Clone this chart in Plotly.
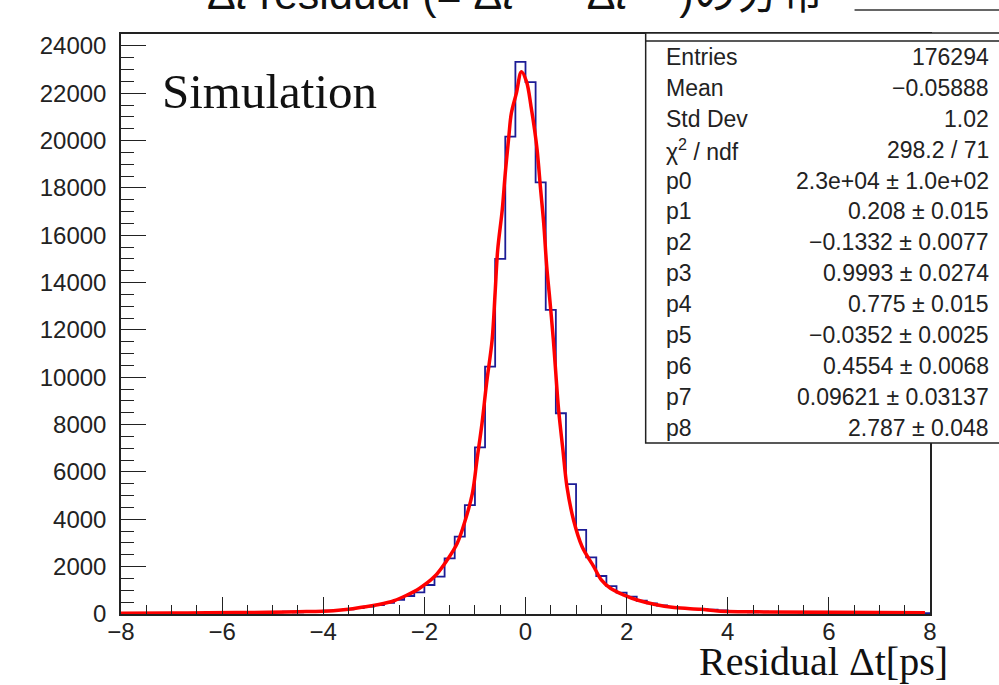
import plotly.graph_objects as go

# ---------------- data ----------------
bin_low = -8.0
bin_width = 0.2
hist_counts = [
    10, 12, 14, 15, 17, 19, 21, 24, 45, 48,
    52, 55, 58, 62, 66, 70, 95, 70, 105, 120,
    140, 165, 200, 250, 310, 380, 470, 600, 760, 917,
    1225, 1580, 2350, 3270, 4600, 7040, 10450, 15000, 20165, 23320,
    22470, 18230, 12850, 8480, 5490, 3550, 2395, 1605, 1180, 900,
    730, 560, 450, 360, 290, 250, 220, 200, 180, 150,
    135, 120, 70, 95, 85, 80, 76, 72, 68, 64,
    60, 58, 55, 52, 50, 48, 45, 42, 40, 38,
]
fit_x = [-8.0, -7.0, -6.3, -5.1, -4.5, -3.8, -3.5, -3.2, -2.9, -2.6, -2.35, -2.1,
         -1.8, -1.55, -1.35, -1.19, -1.05, -0.96, -0.86, -0.77, -0.66, -0.6,
         -0.55, -0.46, -0.4, -0.33, -0.28, -0.18, -0.08, 0.02, 0.11, 0.18, 0.23,
         0.3, 0.36, 0.42, 0.48, 0.55, 0.59, 0.655, 0.74, 0.82, 0.95, 1.12, 1.35,
         1.5, 1.68, 1.95, 2.21, 2.54, 2.94, 3.47, 3.8, 4.79, 6.1, 7.9]
fit_y = [30, 40, 55, 70, 95, 140, 200, 300, 400, 560, 790, 1080,
         1580, 2280, 2990, 3970, 5100, 6510, 8060, 9750, 11580, 13600,
         15380, 17070, 18620, 20165, 21150, 22000, 22910, 22490, 21430, 20450, 19600,
         17910, 16510, 14670, 13300, 11600, 10450, 8620, 6930, 5380, 3970, 2840, 2000,
         1440, 1085, 800, 590, 410, 270, 200, 130, 85, 70, 55]

stat_labels = ["Entries", "Mean", "Std Dev", "χ<sup>2</sup> / ndf", "p0", "p1", "p2",
               "p3", "p4", "p5", "p6", "p7", "p8"]
stat_values = ["176294", "−0.05888", "1.02", "298.2 / 71", "2.3e+04 ± 1.0e+02",
               "0.208 ± 0.015", "−0.1332 ± 0.0077", "0.9993 ± 0.0274", "0.775 ± 0.015",
               "−0.0352 ± 0.0025", "0.4554 ± 0.0068", "0.09621 ± 0.03137", "2.787 ± 0.048"]

x_tick_vals = [-8, -6, -4, -2, 0, 2, 4, 6, 8]
y_tick_vals = [0, 2000, 4000, 6000, 8000, 10000, 12000, 14000, 16000, 18000, 20000, 22000, 24000]

# ---------------- layout helpers (pixel -> paper) ----------------
W, H = 999, 685
L, R, T, B = 121, 930.5, 34, 614


def px(x):
    return (x - L) / (R - L)


def py(y):
    return (B - y) / (B - T)


edges = [bin_low + i * bin_width for i in range(len(hist_counts) + 1)]
step_y = hist_counts + [hist_counts[-1]]

fig = go.Figure()
fig.add_trace(go.Scatter(x=edges, y=step_y, mode="lines", line_shape="hv",
                         line=dict(color="#1c1c96", width=1.8), showlegend=False,
                         hoverinfo="skip"))
fig.add_trace(go.Scatter(x=fit_x, y=fit_y, mode="lines", line_shape="spline",
                         line=dict(color="#ff0000", width=3.5), showlegend=False,
                         hoverinfo="skip"))

tickfont = dict(family="Liberation Sans, Arial, sans-serif", size=24, color="#222")
fig.update_xaxes(range=[-8, 8], tickvals=x_tick_vals, ticks="inside", ticklen=17,
                 tickwidth=1.3, tickcolor="#222", showline=True, linecolor="#222",
                 linewidth=1.5, mirror=True, showgrid=False, zeroline=False,
                 tickfont=tickfont, ticklabelstandoff=-5,
                 minor=dict(dtick=0.5, tick0=-8, ticks="inside", ticklen=9,
                            tickwidth=1.3, tickcolor="#222", showgrid=False))
fig.update_yaxes(range=[0, 24500], tickvals=y_tick_vals, tickformat="d",
                 ticks="inside", ticklen=25,
                 tickwidth=1.3, tickcolor="#222", showline=True, linecolor="#222",
                 linewidth=1.5, mirror=True, showgrid=False, zeroline=False,
                 tickfont=tickfont, ticklabelstandoff=8,
                 minor=dict(dtick=500, tick0=0, ticks="inside", ticklen=13,
                            tickwidth=1.3, tickcolor="#222", showgrid=False))

shapes = [
    dict(type="rect", xref="paper", yref="paper", x0=px(646), x1=px(1015),
         y0=py(443), y1=py(33), fillcolor="white", line=dict(color="#222", width=1.5),
         layer="above"),
    dict(type="line", xref="paper", yref="paper", x0=px(646), x1=px(1015),
         y0=py(41), y1=py(41), line=dict(color="#222", width=1.5), layer="above"),
    dict(type="line", xref="paper", yref="paper", x0=px(855), x1=px(1005),
         y0=py(10), y1=py(10), line=dict(color="#333", width=1.5), layer="above"),
]

annotations = []
stat_font = dict(family="Liberation Sans, Arial, sans-serif", size=23, color="#222")
for i, (lab, val) in enumerate(zip(stat_labels, stat_values)):
    yc = 57 + i * 30.9
    annotations.append(dict(text=lab, xref="paper", yref="paper", x=px(664), y=py(yc),
                            xanchor="left", yanchor="middle", showarrow=False,
                            font=stat_font))
    annotations.append(dict(text=val, xref="paper", yref="paper", x=px(992), y=py(yc),
                            xanchor="right", yanchor="middle", showarrow=False,
                            font=stat_font))

annotations.append(dict(text="Simulation", xref="paper", yref="paper", x=px(160),
                        y=py(91), xanchor="left", yanchor="middle", showarrow=False,
                        font=dict(family="Liberation Serif, Times New Roman, serif",
                                  size=49, color="#111")))
annotations.append(dict(text="Residual Δt[ps]", xref="paper", yref="paper", x=px(951),
                        y=py(661), xanchor="right", yanchor="middle", showarrow=False,
                        font=dict(family="Liberation Serif, Times New Roman, serif",
                                  size=40, color="#111")))
annotations.append(dict(text="Δ<i>t</i> residual (= Δ<i>t</i><sup>fit</sup> − Δ<i>t</i><sup>true</sup>)の分布",
                        xref="paper", yref="paper", x=px(515), y=py(-9),
                        xanchor="center", yanchor="middle", showarrow=False,
                        font=dict(family="Liberation Sans, Noto Sans CJK JP, sans-serif",
                                  size=43, color="#111")))

fig.update_layout(width=W, height=H, margin=dict(l=L, r=W - R, t=T, b=H - B),
                  paper_bgcolor="white", plot_bgcolor="white", shapes=shapes,
                  annotations=annotations, showlegend=False)

fig.write_html("out.html", config={"displayModeBar": False},
               post_script="document.body.style.margin='0';document.body.style.overflow='hidden';")
